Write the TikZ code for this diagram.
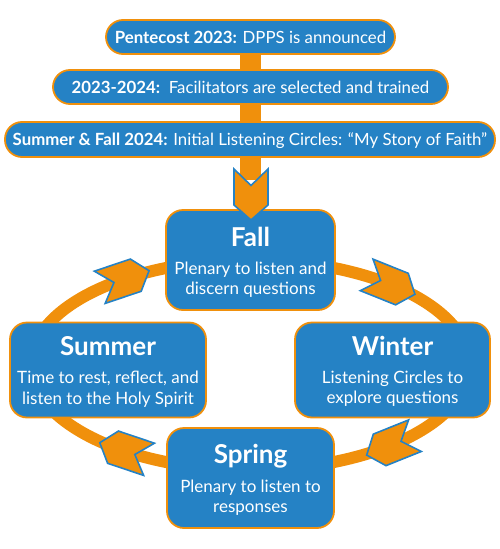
\documentclass[tikz,border=0pt]{standalone}
\usepackage{fontspec}
\setmainfont{Lato}
\definecolor{cblue}{HTML}{2582C5}
\definecolor{corange}{HTML}{F0900C}
\tikzset{
  ringchev/.pic={\path[chev] (-26,-17) -- (12,-17) -- (26,0) -- (12,17) -- (-26,17) -- (-11,0) -- cycle;},
  topchev/.pic={\path[chev] (-25.5,-17) -- (10.5,-17) -- (25.5,0) -- (10.5,17) -- (-25.5,17) -- (-9,0) -- cycle;},
}
\begin{document}
\begin{tikzpicture}[x=1pt,y=-1pt,
  box/.style={draw=corange, line width=1.8pt, fill=cblue, rounded corners=17pt, inner sep=0pt},
  bar/.style={draw=corange, line width=1.8pt, fill=cblue, rounded corners=17pt, minimum height=34pt, inner sep=0pt},
  bartext/.style={text=white, anchor=base, inner sep=0pt, font=\fontsize{16.8}{20}\selectfont},
  ttl/.style={text=white, anchor=base, inner sep=0pt, font=\fontsize{26}{30}\selectfont\bfseries},
  body/.style={text=white, anchor=base, inner sep=0pt, font=\fontsize{17}{20}\selectfont},
  ring/.style={draw=corange, line width=12pt},
  stemline/.style={draw=corange, line width=21pt},
  chev/.style={fill=corange, draw=cblue, line width=1.6pt, line join=miter},
]
\useasboundingbox (0,0) rectangle (500,549);
\coordinate (ringc) at (250,365);
\coordinate (chevtop) at (251,194.5);
% cycle ring
\draw[ring] (ringc) ellipse [x radius=219pt, y radius=105pt];
% bars
\node[bar, minimum width=289pt, minimum height=34pt] (b1) at (250.5,37) {};
\draw[stemline] (b1.south) -- (250.5,180);
\node[bar, minimum width=395pt] (b2) at (250.5,87) {};
\node[bar, minimum width=490pt, minimum height=35pt] (b3) at (250,139.5) {};
\node[bartext] (t1) at (250.5,43) {\textbf{Pentecost 2023:} DPPS is announced};
\node[bartext] (t2) at (250.5,93) {\textbf{2023-2024:}\ \ Facilitators are selected and trained};
\node[bartext] (t3) at (250,145) {\textbf{Summer \& Fall 2024:} Initial Listening Circles: “My Story of Faith”};
% season boxes
\node[box, minimum width=169pt, minimum height=100pt] (fall) at (250.5,260) {};
\node[box, minimum width=196pt, minimum height=95pt] (summer) at (108,370) {};
\node[box, minimum width=195pt, minimum height=95pt] (winter) at (392.5,370) {};
\node[box, minimum width=167pt, minimum height=100pt] (spring) at (250.5,478) {};
% texts
\node[ttl] (fallT) at (250.5,246) {Fall};
\node[body] (fallA) at (250.5,274) {Plenary to listen and};
\node[body] (fallB) at (250.5,294.5) {discern questions};
\node[ttl] (sumT) at (108,355) {Summer};
\node[body] (sumA) at (108,383) {Time to rest, reflect, and};
\node[body] (sumB) at (108,404) {listen to the Holy Spirit};
\node[ttl] (winT) at (392.5,355) {Winter};
\node[body] (winA) at (392.5,383) {Listening Circles to};
\node[body] (winB) at (392.5,403.5) {explore questions};
\node[ttl] (sprT) at (250.5,463) {Spring};
\node[body] (sprA) at (250.5,492) {Plenary to listen to};
\node[body] (sprB) at (250.5,512) {responses};
% chevron arrows
\pic[rotate=-90] at (chevtop) {topchev};
\pic[rotate=-21.9] at (390.8,284.6) {ringchev};
\pic[rotate=-158.1] at (390.8,445.4) {ringchev};
\pic[rotate=161.4] at (124.4,451.0) {ringchev};
\pic[rotate=18.6] at (124.4,279.0) {ringchev};
\end{tikzpicture}
\end{document}
